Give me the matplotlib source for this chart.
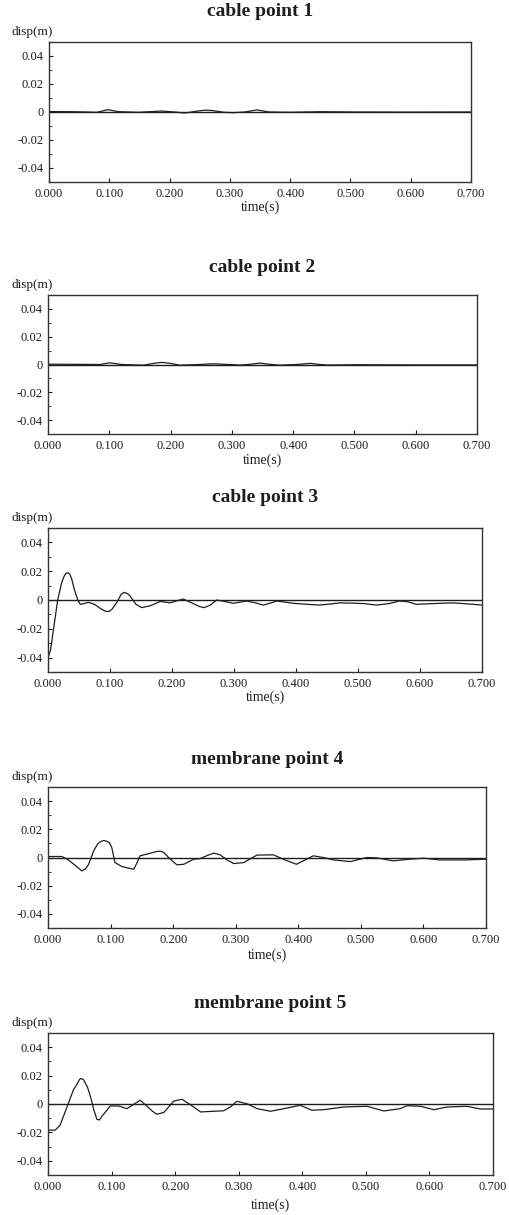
import matplotlib
matplotlib.use("Agg")
import matplotlib.pyplot as plt
import numpy as np

plt.rcParams["font.family"] = ["Liberation Serif", "DejaVu Serif"]

titles = ["cable point 1", "cable point 2", "cable point 3",
          "membrane point 4", "membrane point 5"]

# displacement histories (time in s, disp in m)
t1 = [0.0, 0.04, 0.08, 0.098, 0.115, 0.15, 0.187, 0.205, 0.226, 0.245, 0.258,
      0.27, 0.29, 0.305, 0.325, 0.345, 0.365, 0.40, 0.45, 0.50, 0.60, 0.70]
d1 = [0.0003, 0.0002, -0.0002, 0.0017, 0.0002, -0.0002, 0.0007, 0.0001, -0.0007,
      0.0006, 0.0013, 0.0011, -0.0002, -0.0005, 0.0000, 0.0015, 0.0000, -0.0002,
      0.0002, 0.0000, -0.0001, 0.0000]

t2 = [0.0, 0.05, 0.085, 0.101, 0.12, 0.155, 0.175, 0.186, 0.20, 0.215, 0.24,
      0.27, 0.295, 0.313, 0.33, 0.346, 0.36, 0.378, 0.405, 0.428, 0.445, 0.455,
      0.50, 0.60, 0.70]
d2 = [0.0002, 0.0001, 0.0000, 0.0012, 0.0000, -0.0005, 0.0010, 0.0015, 0.0008,
      -0.0005, -0.0001, 0.0005, 0.0000, -0.0004, 0.0002, 0.0010, 0.0002, -0.0005,
      0.0000, 0.0008, 0.0000, -0.0004, -0.0002, -0.0003, -0.0003]

t3 = [0.0, 0.004, 0.009, 0.0156, 0.022, 0.026, 0.029, 0.032, 0.035, 0.038, 0.042,
      0.048, 0.052, 0.058, 0.065, 0.075, 0.085, 0.091, 0.095, 0.099, 0.103, 0.112,
      0.118, 0.123, 0.128, 0.132, 0.142, 0.151, 0.165, 0.181, 0.197, 0.208, 0.218,
      0.232, 0.244, 0.252, 0.262, 0.272, 0.285, 0.299, 0.32, 0.335, 0.347, 0.36,
      0.369, 0.396, 0.418, 0.438, 0.455, 0.471, 0.492, 0.51, 0.53, 0.55, 0.567,
      0.58, 0.594, 0.62, 0.653, 0.68, 0.70]
d3 = [-0.040, -0.035, -0.020, 0.000, 0.012, 0.0165, 0.0185, 0.019, 0.018, 0.015,
      0.008, 0.000, -0.003, -0.0025, -0.0016, -0.003, -0.006, -0.0075, -0.008,
      -0.0078, -0.0065, -0.001, 0.004, 0.0053, 0.0045, 0.003, -0.003, -0.0053,
      -0.004, -0.001, -0.002, -0.0005, 0.0007, -0.002, -0.0045, -0.0053, -0.0035,
      0.000, -0.001, -0.0023, -0.0007, -0.002, -0.0035, -0.002, -0.0007, -0.0023,
      -0.003, -0.0035, -0.0028, -0.002, -0.0022, -0.0025, -0.0035, -0.0025, -0.0007,
      -0.0012, -0.003, -0.0025, -0.002, -0.0028, -0.0035]

t4 = [0.0, 0.022, 0.030, 0.038, 0.046, 0.054, 0.060, 0.065, 0.073, 0.080, 0.085,
      0.089, 0.093, 0.098, 0.102, 0.107, 0.118, 0.128, 0.137, 0.142, 0.147, 0.158,
      0.174, 0.180, 0.185, 0.195, 0.206, 0.217, 0.233, 0.243, 0.255, 0.265, 0.275,
      0.287, 0.297, 0.313, 0.325, 0.334, 0.36, 0.376, 0.397, 0.408, 0.424, 0.44,
      0.456, 0.483, 0.51, 0.526, 0.552, 0.578, 0.60, 0.626, 0.669, 0.70]
d4 = [0.0007, 0.0007, -0.001, -0.0036, -0.0065, -0.0095, -0.008, -0.0048, 0.0048,
      0.010, 0.0115, 0.012, 0.0117, 0.0105, 0.007, -0.0036, -0.0064, -0.0075,
      -0.0083, -0.004, 0.0012, 0.0024, 0.0043, 0.0044, 0.0036, -0.001, -0.0052,
      -0.0048, -0.0012, -0.0008, 0.0015, 0.0031, 0.0019, -0.002, -0.0043, -0.0036,
      -0.0005, 0.0017, 0.0019, -0.0012, -0.0048, -0.0024, 0.0012, 0.000, -0.0017,
      -0.0029, 0.000, -0.0003, -0.0024, -0.0012, -0.0005, -0.0017, -0.0017, -0.0012]

t5 = [0.0, 0.0115, 0.019, 0.030, 0.040, 0.046, 0.049, 0.051, 0.053, 0.056, 0.062,
      0.067, 0.072, 0.077, 0.081, 0.085, 0.098, 0.111, 0.124, 0.132, 0.145, 0.156,
      0.164, 0.171, 0.182, 0.198, 0.211, 0.224, 0.24, 0.261, 0.276, 0.287, 0.297,
      0.313, 0.329, 0.35, 0.371, 0.397, 0.415, 0.434, 0.465, 0.502, 0.528, 0.554,
      0.565, 0.586, 0.607, 0.628, 0.659, 0.68, 0.70]
d5 = [-0.0184, -0.0184, -0.0149, -0.002, 0.010, 0.0142, 0.0168, 0.018, 0.0178,
      0.017, 0.012, 0.0049, -0.004, -0.0109, -0.0112, -0.0086, -0.0014, -0.0014,
      -0.0033, -0.001, 0.0026, -0.0016, -0.005, -0.0072, -0.006, 0.0021, 0.0033,
      -0.0005, -0.0056, -0.0051, -0.0048, -0.0021, 0.0019, 0.0002, -0.0033, -0.0051,
      -0.0033, -0.0009, -0.0044, -0.004, -0.0021, -0.0016, -0.0049, -0.0033, -0.0012,
      -0.0016, -0.004, -0.0021, -0.0016, -0.0035, -0.0035]

times = [t1, t2, t3, t4, t5]
disps = [d1, d2, d3, d4, d5]

xticks = [0.0, 0.1, 0.2, 0.3, 0.4, 0.5, 0.6, 0.7]
xticklabels = ["0.000", "0.100", "0.200", "0.300", "0.400", "0.500", "0.600", "0.700"]
yticks = [0.04, 0.02, 0.0, -0.02, -0.04]
yticklabels = ["0.04", "0.02", "0", "-0.02", "-0.04"]

W, H = 509, 1215
# frame of each panel in pixels: left, right, top, bottom
boxes = [(49, 471, 42, 182), (48, 477, 295, 434), (48, 482, 528, 672),
         (48, 486, 787, 928), (48, 493, 1033, 1175)]
title_y = [12, 267, 498, 760, 1003]
xlabel_y = [207, 460, 697, 955, 1205]

ink = "#1e1e1e"
fig = plt.figure(figsize=(W / 100, H / 100), dpi=100)

for i in range(5):
    l, r, top, bot = boxes[i]
    ax = fig.add_axes([l / W, 1 - bot / H, (r - l) / W, (bot - top) / H])
    ax.axhline(0, color=ink, lw=1.0)
    ax.plot(times[i], disps[i], color=ink, lw=0.9)
    ax.set_xlim(0, 0.7)
    ax.set_ylim(-0.05, 0.05)
    ax.set_xticks(xticks)
    ax.set_xticklabels(xticklabels)
    ax.set_yticks(yticks)
    ax.set_yticklabels(yticklabels)
    ax.set_yticks(np.arange(-0.05, 0.051, 0.01), minor=True)
    ax.tick_params(direction="in", length=3, width=0.8, colors=ink,
                   labelsize=9, pad=4)
    ax.tick_params(axis="y", which="minor", direction="in", length=2, width=0.6,
                   colors=ink)
    for s in ax.spines.values():
        s.set_color("#333333")
        s.set_linewidth(1.0)
    cx = (l + r) / 2 / W
    fig.text(cx, 1 - title_y[i] / H, titles[i], ha="center", va="center",
             fontsize=14, fontweight="bold", color=ink)
    fig.text(11 / W, 1 - (top - 10) / H, "disp(m)", ha="left", va="center",
             fontsize=9.5, color=ink)
    fig.text(cx, 1 - xlabel_y[i] / H, "time(s)", ha="center", va="center",
             fontsize=10, color=ink)

fig.savefig("out.png", dpi=100, facecolor="white")
